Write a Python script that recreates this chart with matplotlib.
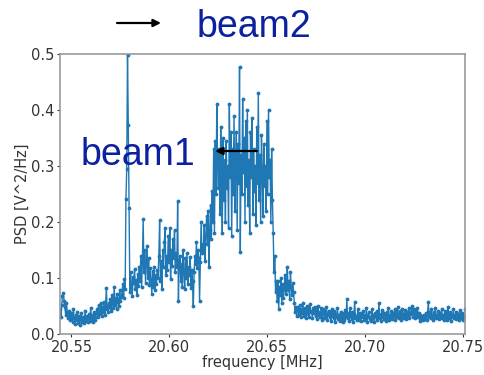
import numpy as np
import matplotlib.pyplot as plt

# PSD readings (x1000 V^2/Hz) on a 0.4 kHz grid
f_start = 20.5442
f_step = 0.0004

low_left = [45, 30, 52, 68, 73, 60, 48, 35, 55, 40, 28, 42, 33, 25, 38,
            30, 22, 45, 28, 18, 35, 25, 40, 20, 32, 16, 27, 38, 22, 30, 19,
            26, 42, 24, 33, 21, 29, 36, 23, 47, 28, 34, 22, 39, 26, 31]
rise = [38, 45, 30, 52, 36, 42, 55, 33, 48, 40, 58, 35, 50, 83, 44, 39, 56,
        48, 62, 42, 70, 55, 47, 85, 52, 64, 45, 72, 58, 50, 78, 60, 66,
        72, 90, 64, 98, 80]
spike = [242, 294, 498, 374, 226]
shoulder = [75, 110, 88, 68, 102, 92, 116, 80, 97, 70, 108, 86,
            120, 95, 140, 85, 130, 205, 110, 150, 92, 125, 157, 100, 135, 88, 118,
            95, 72, 112, 85, 120, 78, 105, 90, 115,
            100, 140, 203, 95, 130, 80, 150,
            120, 165, 190, 105, 140, 115, 175, 128, 190, 98, 150, 122, 170, 135, 185, 110,
            145, 120, 237, 59, 130,
            140, 95, 125, 85, 150, 110, 80, 135, 100, 145, 90, 120, 105, 138, 82, 115, 95, 50,
            110, 140, 125, 165, 118, 150, 135, 60, 128, 200, 145, 160,
            150, 195, 130, 175, 210, 160, 220, 120, 185, 230, 170, 255, 200]
plateau = [330, 180, 345, 250, 410, 300,
           260, 330, 215, 370, 290, 180, 350, 240, 310, 200,
           345, 260, 300, 190, 410, 280, 360, 175, 330, 250,
           390, 220, 300, 360, 185, 340, 270, 477, 146, 320,
           250, 420, 290, 350, 200, 380, 265, 400, 230, 310,
           180, 360, 280, 385, 215, 330, 255, 300, 195, 370,
           270, 430, 240, 320, 200, 355, 290, 210, 340, 265,
           300, 220, 380, 250, 400, 280, 310, 200, 330, 240]
fall = [180, 110, 140, 75, 95,
        60, 95, 45, 85, 70, 100, 55, 90, 65, 80, 105, 72, 88, 120, 78, 95, 62,
        110, 85, 70, 92, 75,
        55, 40, 48, 32, 45]
floor = [48, 35, 52, 30, 44, 38, 56, 33, 47, 40, 29, 50, 36, 45, 31, 54, 39, 42, 28, 46,
         37, 49, 32, 43, 27, 51, 35, 40, 30, 46, 26, 38, 44, 29, 41, 33, 48, 25, 36, 42,
         30, 39, 24, 45, 33, 28, 41, 22, 36, 31, 47, 27, 35, 23, 40, 29, 34, 21, 38, 26,
         43, 30, 62, 28, 37, 24, 46, 32, 27, 40, 22, 35, 58, 29, 33, 25, 44, 31, 26, 38,
         23, 36, 30, 42, 25, 34, 28, 47, 22, 33, 39, 27, 31, 24, 45, 29, 35, 21, 37, 32,
         26, 41, 30, 55, 28, 36, 23, 43, 31, 27, 38, 33, 24, 40, 29, 46, 25, 35, 30, 42,
         27, 37, 32, 44, 26, 39, 30, 48, 28, 34, 41, 25, 36, 45, 31, 29, 43, 35, 27, 39,
         33, 46, 29, 40, 36, 50, 31, 38, 44, 28, 42, 34, 47, 30, 37, 24, 35, 28, 32, 26,
         30, 34, 27, 38, 25, 36, 57, 31, 40, 28, 44, 33, 26, 39, 30, 47, 29, 35, 32, 41,
         27, 37, 31, 45, 28, 34, 25, 42, 30, 36, 26, 48, 33, 29, 39, 24, 35, 31, 44, 28,
         34, 27, 40, 30, 36, 25, 43, 32, 29, 38, 26, 35, 31, 45]

psd = np.array(low_left + rise + spike + shoulder + plateau + fall + floor) / 1000.0
freq = f_start + f_step * np.arange(len(psd))

fig = plt.figure(figsize=(4.85, 3.75), dpi=100)
ax = fig.add_axes([0.124, 0.109, 0.835, 0.747])

ax.plot(freq, psd, color='#1f77b4', marker='.', markersize=3.5, linewidth=1.0)

ax.set_xlim(20.5442, 20.751)
ax.set_ylim(0, 0.5)
ax.set_xticks([20.55, 20.60, 20.65, 20.70, 20.75])
ax.set_xticklabels(['20.55', '20.60', '20.65', '20.70', '20.75'])
ax.set_yticks([0.0, 0.1, 0.2, 0.3, 0.4, 0.5])
ax.set_xlabel('frequency [MHz]', fontsize=10.5, color='#333333', labelpad=0.5)
ax.set_ylabel('PSD [V^2/Hz]', fontsize=10.5, color='#333333', labelpad=1)
ax.tick_params(labelsize=10.5, colors='#333333', length=2.5, pad=1.5)
for s in ax.spines.values():
    s.set_color('#999999')
    s.set_linewidth(1.2)

# labels/arrows put on top of the figure
label_col = '#0b219e'
fig.text(197 / 485, 1 - 37 / 375, 'beam2', fontsize=27, color=label_col,
         family='Liberation Sans', va='baseline', ha='left')
fig.text(81 / 485, 1 - 165 / 375, 'beam1', fontsize=27, color=label_col,
         family='Liberation Sans', va='baseline', ha='left')
fig.add_artist(plt.Annotation('', xy=(161 / 485, 1 - 23 / 375), xytext=(117 / 485, 1 - 23 / 375),
                              xycoords='figure fraction', textcoords='figure fraction',
                              arrowprops=dict(arrowstyle='-|>', color='black', lw=1.6,
                                              mutation_scale=11, shrinkA=0, shrinkB=0)))
fig.add_artist(plt.Annotation('', xy=(215 / 485, 1 - 151 / 375), xytext=(257 / 485, 1 - 151 / 375),
                              xycoords='figure fraction', textcoords='figure fraction',
                              arrowprops=dict(arrowstyle='-|>', color='black', lw=1.6,
                                              mutation_scale=11, shrinkA=0, shrinkB=0)))

fig.savefig('out.png', dpi=100)
